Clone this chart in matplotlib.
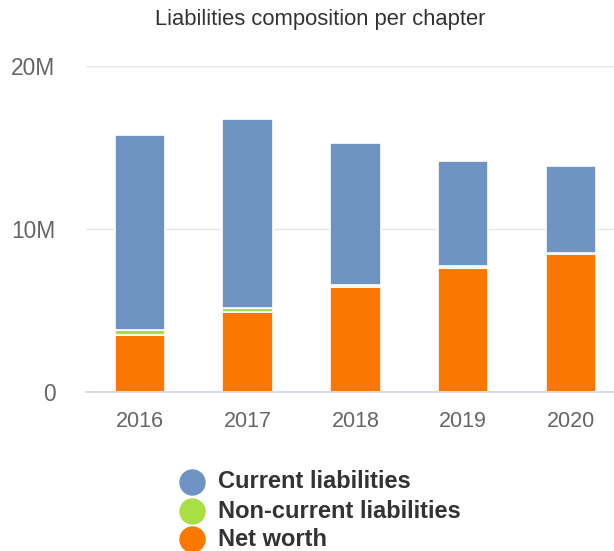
import matplotlib
matplotlib.use("Agg")
import matplotlib.pyplot as plt
import matplotlib.transforms as mtransforms
from matplotlib.lines import Line2D
from matplotlib.ticker import FuncFormatter

plt.rcParams['font.family'] = ['Liberation Sans', 'DejaVu Sans']

years = ["2016", "2017", "2018", "2019", "2020"]
net_worth = [3.50e6, 4.90e6, 6.42e6, 7.60e6, 8.45e6]
non_current = [0.27e6, 0.24e6, 0.10e6, 0.10e6, 0.08e6]
current = [11.98e6, 11.60e6, 8.76e6, 6.47e6, 5.30e6]

series_names = ["Current liabilities", "Non-current liabilities", "Net worth"]
colors = {"Current liabilities": "#6f93c2",
          "Non-current liabilities": "#a8df45",
          "Net worth": "#fa7800"}

fig = plt.figure(figsize=(6.14, 5.51), dpi=100)
ax = fig.add_axes([86 / 614, 159.3 / 551, 1 - 86 / 614, 326 / 551])

x = list(range(len(years)))
w = 0.47
bottom2 = [a + b for a, b in zip(net_worth, non_current)]
ax.bar(x, net_worth, width=w, color=colors["Net worth"], edgecolor="white", linewidth=1.2, zorder=3)
ax.bar(x, non_current, width=w, bottom=net_worth, color=colors["Non-current liabilities"],
       edgecolor="white", linewidth=1.2, zorder=3)
ax.bar(x, current, width=w, bottom=bottom2, color=colors["Current liabilities"],
       edgecolor="white", linewidth=1.2, zorder=3)

ax.set_xlim(-0.5, 4.40)
ax.set_ylim(0, 20e6)
ax.set_yticks([0, 10e6, 20e6])
ax.yaxis.set_major_formatter(FuncFormatter(lambda v, p: "0" if v == 0 else f"{v/1e6:.0f}M"))
ax.set_xticks(x)
ax.set_xticklabels(years)
ax.grid(axis="y", color="#e6e6e6", linewidth=1, zorder=0)
for s in ["top", "right", "left"]:
    ax.spines[s].set_visible(False)
ax.spines["bottom"].set_color("#ccd6eb")
ax.spines["bottom"].set_linewidth(1.2)
ax.spines["bottom"].set_zorder(4)
ax.tick_params(axis="both", length=0, labelcolor="#666666")
ax.tick_params(axis="y", pad=22, labelsize=16.4)
ax.tick_params(axis="x", pad=14, labelsize=15.5)
shift_down = mtransforms.ScaledTranslation(0, -3 / 100, fig.dpi_scale_trans)
for lbl in ax.get_yticklabels():
    lbl.set_verticalalignment("center")
    lbl.set_transform(lbl.get_transform() + shift_down)

fig.text(320 / 614, 1 - 19 / 551, "Liabilities composition per chapter",
         ha="center", va="center", fontsize=15.8, color="#333333")

# legend: circle markers with bold labels
row_y = [482, 511, 539]
for name, yy in zip(series_names, row_y):
    fig.add_artist(Line2D([192 / 614], [1 - yy / 551], marker="o", markersize=18,
                          color=colors[name], linestyle="none", transform=fig.transFigure))
    fig.text(218 / 614, 1 - yy / 551, name, ha="left", va="center",
             fontsize=17, fontweight="bold", color="#333333")

fig.savefig("out.png", dpi=100)
